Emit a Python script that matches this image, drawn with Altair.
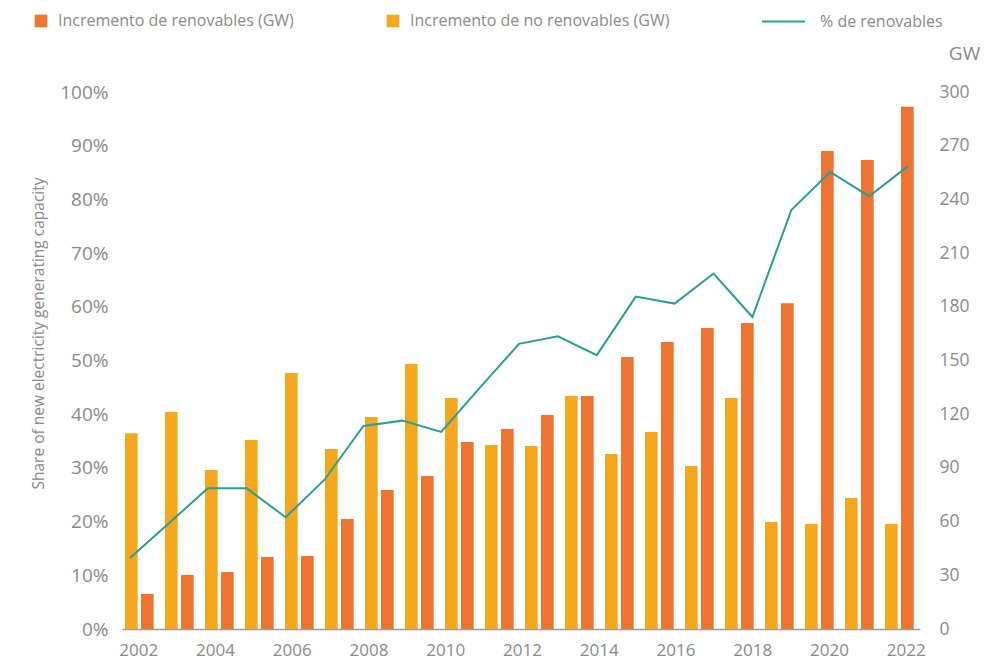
import altair as alt
import pandas as pd

# ---------------- data ----------------
years_line = list(range(2002, 2023))
share_renewables = [13.2, 19.7, 26.2, 26.2, 20.8, 27.8, 37.8, 38.8, 36.7, 45.0,
                    53.1, 54.5, 51.0, 61.9, 60.6, 66.2, 58.1, 78.0, 85.1, 80.6, 86.2]

bar_years = list(range(2003, 2023))
non_renewable_gw = [109.3, 121.2, 88.8, 105.6, 143.0, 100.6, 118.4, 148.0, 129.0, 102.8,
                    102.2, 130.2, 97.8, 110.0, 91.0, 129.0, 59.8, 58.7, 73.2, 58.7]
renewable_gw = [19.6, 30.2, 31.8, 40.2, 40.8, 61.5, 77.7, 85.5, 104.5, 111.7,
                119.6, 130.2, 152.0, 160.3, 168.2, 171.0, 182.0, 267.0, 262.0, 291.8]

tick_years = list(range(2002, 2023, 2))

SER_REN = "Incremento de renovables (GW)"
SER_NON = "Incremento de no renovables (GW)"
SER_LINE = "% de renovables"

ORANGE = "#EE7431"
YELLOW = "#F5A81F"
TEAL = "#2A9D97"
GRAY = "#8a8a8a"
FONT = "Open Sans"

bars_df = pd.DataFrame(
    [{"year": y, "series": SER_NON, "gw": v} for y, v in zip(bar_years, non_renewable_gw)]
    + [{"year": y, "series": SER_REN, "gw": v} for y, v in zip(bar_years, renewable_gw)]
)
line_df = pd.DataFrame({"year": years_line, "share": share_renewables, "serie": SER_LINE})
ticks_df = pd.DataFrame({"year": tick_years})

# ---------------- layers ----------------
bars = alt.Chart(bars_df).mark_bar().encode(
    x=alt.X("year:O", axis=None,
            scale=alt.Scale(paddingInner=0.2825, paddingOuter=0.116, align=0.32)),
    xOffset=alt.XOffset("series:N", sort=[SER_NON, SER_REN],
                        scale=alt.Scale(paddingInner=0.206, paddingOuter=0)),
    y=alt.Y("gw:Q", scale=alt.Scale(domain=[0, 300], nice=False),
            axis=alt.Axis(orient="right", values=list(range(0, 301, 30)),
                          title="GW", titleAngle=0, titleX=44, titleY=-39,
                          titleAlign="center", titleBaseline="middle",
                          titleFontSize=19, titleFontWeight="normal", titleColor=GRAY,
                          labelFontSize=17.5, labelColor=GRAY, labelPadding=19,
                          ticks=False, domain=False, grid=False)),
    fill=alt.Fill("series:N",
                  scale=alt.Scale(domain=[SER_REN, SER_NON], range=[ORANGE, YELLOW]),
                  legend=alt.Legend(orient="none", legendX=-89, legendY=-79,
                                    direction="horizontal", title=None, padding=0,
                                    symbolType="square", symbolSize=161,
                                    symbolStrokeWidth=0, labelOffset=9,
                                    labelFontSize=16, labelColor=GRAY, labelFont=FONT,
                                    columnPadding=91, labelLimit=400)),
)

line = alt.Chart(line_df).mark_line(strokeWidth=2).encode(
    x=alt.X("year:Q", axis=None,
            scale=alt.Scale(domain=[2001.794, 2022.308], nice=False, zero=False)),
    y=alt.Y("share:Q", scale=alt.Scale(domain=[0, 100], nice=False),
            axis=alt.Axis(orient="left", values=list(range(0, 101, 10)),
                          labelExpr="datum.value + '%'",
                          title="Share of new electricity generating capacity",
                          titleX=-84, titleY=241, titleAngle=270,
                          titleAlign="center", titleBaseline="middle",
                          titleFontSize=15.5, titleFontWeight="normal", titleColor=GRAY,
                          labelFontSize=19, labelColor=GRAY, labelPadding=14,
                          ticks=False, domain=False, grid=False)),
    stroke=alt.Stroke("serie:N",
                      scale=alt.Scale(domain=[SER_LINE], range=[TEAL]),
                      legend=alt.Legend(orient="none", legendX=639, legendY=-93,
                                        title=None, padding=0,
                                        symbolType="stroke", symbolSize=1849,
                                        symbolStrokeWidth=2, labelOffset=14,
                                        labelFontSize=16, labelColor=GRAY,
                                        labelFont=FONT, labelLimit=400)),
)

xlabels = alt.Chart(ticks_df).mark_point(opacity=0).encode(
    x=alt.X("year:Q",
            scale=alt.Scale(domain=[2001.575, 2022.373], nice=False, zero=False),
            axis=alt.Axis(values=tick_years, format="d", title=None,
                          labelFontSize=17, labelColor=GRAY, labelPadding=13,
                          ticks=False, domain=True, domainColor="#9b9b9b",
                          domainWidth=1.5, grid=False, labelFlush=False)),
)

chart = alt.layer(bars, line, xlabels).resolve_scale(
    x="independent", y="independent"
).properties(
    width=798, height=537,
    autosize=alt.AutoSizeParams(type="none"),
    padding={"left": 114, "top": 84, "right": 60, "bottom": 40},
).configure(
    font=FONT,
).configure_view(
    stroke=None,
)

chart.save("out.html", embed_options={"renderer": "svg", "actions": False})
